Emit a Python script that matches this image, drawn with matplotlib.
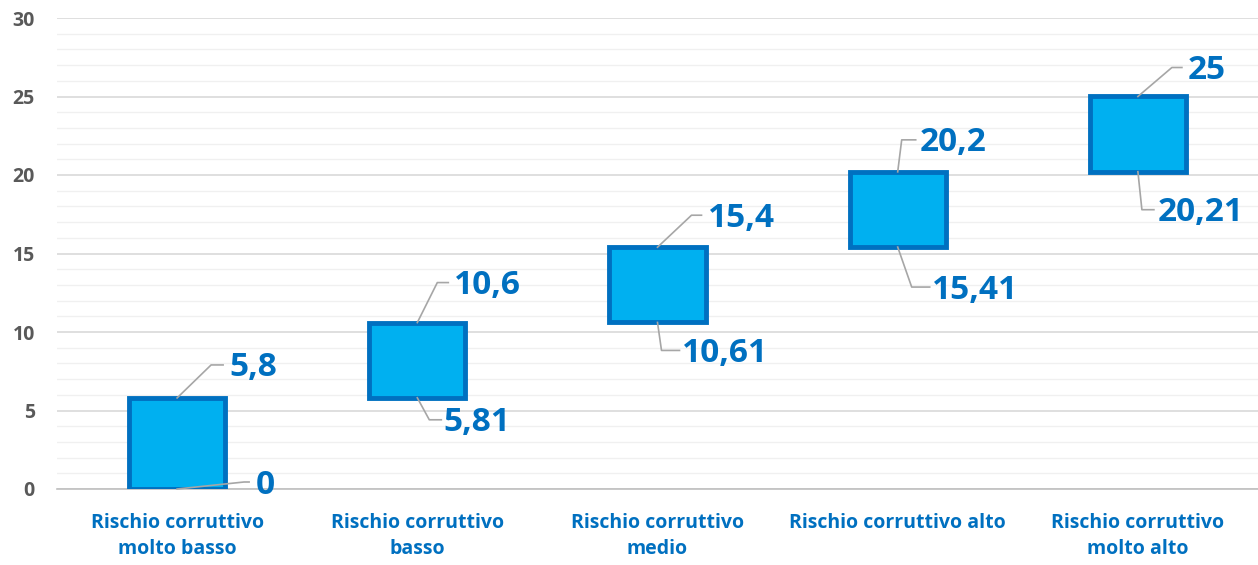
import matplotlib
matplotlib.use("Agg")
import matplotlib.pyplot as plt
from matplotlib.transforms import IdentityTransform
from matplotlib.ticker import MultipleLocator

categories = ["Rischio corruttivo\nmolto basso", "Rischio corruttivo\nbasso",
              "Rischio corruttivo\nmedio", "Rischio corruttivo alto",
              "Rischio corruttivo\nmolto alto"]
low_values = [0, 5.81, 10.61, 15.41, 20.21]
high_values = [5.8, 10.6, 15.4, 20.2, 25]
low_labels = ["0", "5,81", "10,61", "15,41", "20,21"]
high_labels = ["5,8", "10,6", "15,4", "20,2", "25"]
y_ticks = [0, 5, 10, 15, 20, 25, 30]

# leader-line geometry (pixel offsets, screen y downward): elbow dx, elbow dy, horizontal length, text gap
high_leader = [(34, -33, 12, 6), (20, -40, 11, 6), (34, -32, 10, 6), (4, -32, 14, 4), (34, -29, 10, 6)]
low_leader = [(67, -7, 5, 7), (12, 22, 12, 2), (4, 28, 18, 2), (14, 40, 18, 2), (4, 38, 12, 4)]

W, H = 1258, 565
fig = plt.figure(figsize=(W / 100, H / 100), dpi=100)
ax = fig.add_axes([57 / W, 76 / H, 1201 / W, 471 / H])

FONT = "Open Sans"
BLUE = "#0070C0"
FILL = "#00B0F0"

x = list(range(len(categories)))
heights = [h - l for h, l in zip(high_values, low_values)]
ax.bar(x, heights, bottom=low_values, width=0.4, color=FILL, edgecolor=BLUE,
       linewidth=3.5, zorder=3)

ax.set_xlim(-0.5, len(categories) - 0.5)
ax.set_ylim(0, 30)
ax.yaxis.set_major_locator(MultipleLocator(5))
ax.yaxis.set_minor_locator(MultipleLocator(1))
ax.set_yticks(y_ticks)
ax.grid(axis="y", which="major", color="#d9d9d9", linewidth=1.2, zorder=0)
ax.grid(axis="y", which="minor", color="#f0f0f0", linewidth=1.0, zorder=0)
ax.set_axisbelow(True)
for s in ["left", "right", "top"]:
    ax.spines[s].set_visible(False)
ax.spines["bottom"].set_color("#bfbfbf")
ax.spines["bottom"].set_linewidth(1.2)

ax.set_xticks(x)
ax.set_xticklabels(categories, fontfamily=FONT, fontweight="bold", fontsize=14,
                   color=BLUE, linespacing=1.45)
ax.tick_params(axis="x", length=0, pad=17)
ax.tick_params(axis="y", which="both", length=0, pad=16)
for lab in ax.get_yticklabels():
    lab.set_fontfamily(FONT)
    lab.set_fontweight("bold")
    lab.set_fontsize(14)
    lab.set_color("#595959")

fig.canvas.draw()


def draw_label(xi, yv, text, geom):
    dx, dy, hl, gap = geom
    px, py = ax.transData.transform((xi, yv))
    ex, ey = px + dx, py - dy
    hx = ex + hl
    ax.add_line(plt.Line2D([px, ex, hx], [py, ey, ey], transform=IdentityTransform(),
                           color="#a6a6a6", linewidth=1.2, zorder=4, clip_on=False))
    ax.text(hx + gap, ey - 3, text, transform=IdentityTransform(), ha="left", va="center",
            fontfamily=FONT, fontweight="bold", fontsize=24, color=BLUE, zorder=5)


for i in x:
    draw_label(i, high_values[i], high_labels[i], high_leader[i])
    draw_label(i, low_values[i], low_labels[i], low_leader[i])

fig.savefig("out.png", dpi=100)
